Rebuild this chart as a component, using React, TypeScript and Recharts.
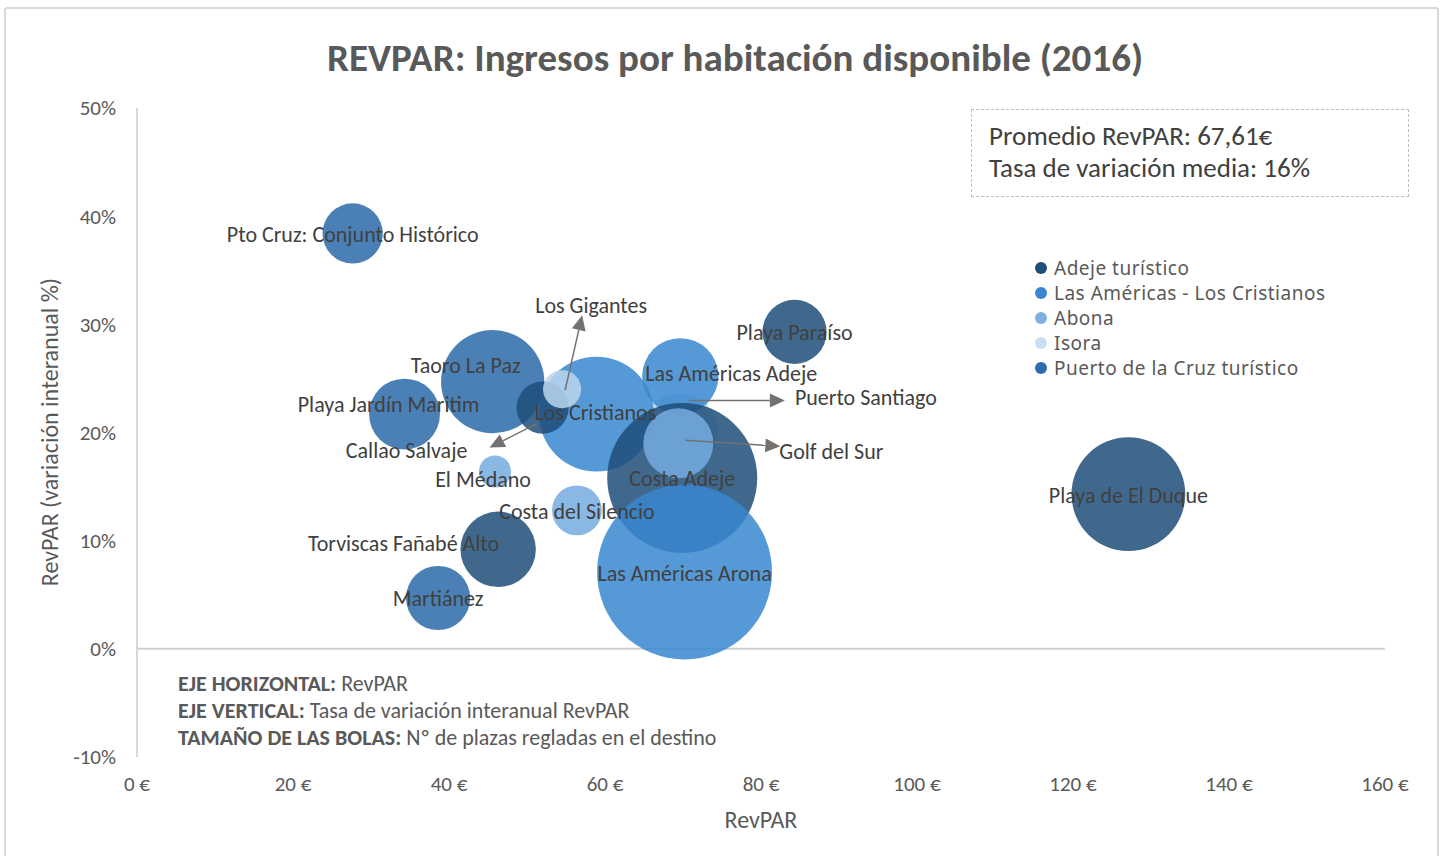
import { ScatterChart, Scatter, XAxis, YAxis, ZAxis, Cell, ReferenceLine } from 'recharts';

const FONT = 'Carlito, Calibri, Lato, sans-serif';
const LEGEND_FONT = '"Noto Sans", sans-serif';

const seriesNames = ['Adeje turístico', 'Las Américas - Los Cristianos', 'Abona', 'Isora', 'Puerto de la Cruz turístico'];
const seriesColors = ['#1F4E79', '#3787CF', '#75ACDF', '#BBD6ED', '#2A6AA8'];
const legendColors = ['#1F4E79', '#3A86D0', '#7EB0E0', '#C8DEF2', '#2E6BAA'];

// x: RevPAR (€), y: variación interanual, z: nº de plazas regladas
const adeje = [
  { name: 'Playa Paraíso', x: 84.3, y: 0.293, z: 3400 },
  { name: 'Costa Adeje', x: 69.9, y: 0.158, z: 18600 },
  { name: 'Playa de El Duque', x: 127.1, y: 0.143, z: 10700 },
  { name: 'Torviscas Fañabé Alto', x: 46.3, y: 0.092, z: 4700 },
  { name: 'Callao Salvaje', x: 52.0, y: 0.223, z: 2250 },
];
const americasCristianos = [
  { name: 'Los Cristianos', x: 58.9, y: 0.217, z: 10900 },
  { name: 'Las Américas Adeje', x: 69.65, y: 0.252, z: 4800 },
  { name: 'Las Américas Arona', x: 70.2, y: 0.071, z: 25300 },
];
const abona = [
  { name: 'El Médano', x: 45.9, y: 0.164, z: 850 },
  { name: 'Costa del Silencio', x: 56.4, y: 0.128, z: 2050 },
  { name: 'Golf del Sur', x: 69.4, y: 0.19, z: 4050 },
];
const isora = [
  { name: 'Los Gigantes', x: 54.5, y: 0.24, z: 1200 },
  { name: 'Puerto Santiago', x: 69.6, y: 0.201, z: 4800 },
];
const puertoCruz = [
  { name: 'Pto Cruz: Conjunto Histórico', x: 27.65, y: 0.384, z: 3000 },
  { name: 'Taoro La Paz', x: 45.6, y: 0.247, z: 8800 },
  { name: 'Playa Jardín Maritim', x: 34.3, y: 0.217, z: 4150 },
  { name: 'Martiánez', x: 38.6, y: 0.047, z: 3400 },
];

const xTicks = [0, 20, 40, 60, 80, 100, 120, 140, 160];
const yTicks = [-0.1, 0, 0.1, 0.2, 0.3, 0.4, 0.5];

const drawOrder = [
  'Puerto Santiago', 'Pto Cruz: Conjunto Histórico', 'Taoro La Paz', 'Playa Jardín Maritim', 'Martiánez',
  'Los Cristianos', 'Las Américas Adeje', 'Callao Salvaje', 'Costa Adeje',
  'Golf del Sur', 'Las Américas Arona', 'Los Gigantes', 'El Médano', 'Costa del Silencio',
  'Torviscas Fañabé Alto', 'Playa Paraíso', 'Playa de El Duque',
];

const groups = [adeje, americasCristianos, abona, isora, puertoCruz];
const points = groups
  .flatMap((g, i) => g.map((p) => ({ ...p, serie: i })))
  .sort((a, b) => drawOrder.indexOf(a.name) - drawOrder.indexOf(b.name));

// label offsets from the bubble centre, in px; arrows are [x1, y1, x2, y2]
const labelLayout: Record<string, { dx: number; dy: number; anchor?: string; arrow?: number[] }> = {
  'Taoro La Paz': { dx: -27, dy: -16 },
  'Playa Jardín Maritim': { dx: -16, dy: -10 },
  'Callao Salvaje': { dx: -136, dy: 43, arrow: [-6, 16, -53, 40] },
  'Los Gigantes': { dx: 29, dy: -84, arrow: [3, 1, 20, -74] },
  'Las Américas Adeje': { dx: 51, dy: -3 },
  'Los Cristianos': { dx: -1, dy: -2 },
  'Puerto Santiago': { dx: 115, dy: -34, anchor: 'start', arrow: [9, -31, 105, -31] },
  'Golf del Sur': { dx: 101, dy: 8, anchor: 'start', arrow: [7, -3, 102, 3] },
  'El Médano': { dx: -12, dy: 8 },
  'Torviscas Fañabé Alto': { dx: 1, dy: -6, anchor: 'end' },
};

const Arrow = ({ x1, y1, x2, y2 }: any) => {
  const a = Math.atan2(y2 - y1, x2 - x1);
  const len = 15;
  const w = 7;
  const bx = x2 - len * Math.cos(a);
  const by = y2 - len * Math.sin(a);
  const px = -Math.sin(a) * w;
  const py = Math.cos(a) * w;
  return (
    <g>
      <line x1={x1} y1={y1} x2={bx} y2={by} stroke="#767171" strokeWidth={1.5} />
      <polygon points={`${x2},${y2} ${bx + px},${by + py} ${bx - px},${by - py}`} fill="#767171" />
    </g>
  );
};

const BubbleLabel = (props: any) => {
  const { cx, cy, payload } = props;
  const lay = labelLayout[payload.name] || { dx: 0, dy: 1 };
  const arrow = lay.arrow;
  return (
    <g>
      {arrow && <Arrow x1={cx + arrow[0]} y1={cy + arrow[1]} x2={cx + arrow[2]} y2={cy + arrow[3]} />}
      <text
        x={cx + lay.dx}
        y={cy + lay.dy}
        textAnchor={lay.anchor || 'middle'}
        dominantBaseline="central"
        fill="#404040"
        fontSize={22}
        fontFamily={FONT}
      >
        {payload.name}
      </text>
    </g>
  );
};

const txt = (extra: any) => ({ position: 'absolute' as const, fontFamily: FONT, color: '#595959', whiteSpace: 'nowrap' as const, ...extra });

const App = () => {
  return (
    <div style={{ position: 'fixed', left: 0, top: 0, width: 1443, height: 856, background: '#fff', overflow: 'hidden' }}>
      <div style={{ position: 'absolute', left: 4, top: 7, width: 1431, height: 870, border: '2px solid #D9D9D9', borderRadius: 3 }} />
      <div style={txt({ left: 0, width: 1470, top: 36, lineHeight: '44px', textAlign: 'center', fontSize: 39, fontWeight: 700 })}>
        REVPAR: Ingresos por habitación disponible (2016)
      </div>

      <div style={{ position: 'absolute', left: 0, top: 0 }}>
        <ScatterChart width={1443} height={856} margin={{ top: 108, right: 58, bottom: 59, left: 0 }}>
          <XAxis
            type="number"
            dataKey="x"
            domain={[0, 160]}
            ticks={xTicks}
            tickFormatter={(v) => `${v} €`}
            axisLine={false}
            tickLine={false}
            tickSize={0}
            tickMargin={19}
            height={40}
            tick={{ fill: '#595959', fontSize: 21, fontFamily: FONT }}
          />
          <YAxis
            type="number"
            dataKey="y"
            domain={[-0.1, 0.5]}
            ticks={yTicks}
            tickFormatter={(v) => `${Math.round(v * 100)}%`}
            axisLine={{ stroke: '#CCCCCC', strokeWidth: 1.5 }}
            tickLine={false}
            tickSize={0}
            tickMargin={21}
            width={137}
            tick={{ fill: '#595959', fontSize: 21, fontFamily: FONT }}
          />
          <ZAxis type="number" dataKey="z" domain={[0, 25300]} range={[0, Math.PI * 87.5 * 87.5]} />
          <ReferenceLine y={0} stroke="#D0D0D0" strokeWidth={2} />
          <Scatter data={points} isAnimationActive={false}>
            {points.map((p, i) => (
              <Cell key={`b-${i}`} fill={seriesColors[p.serie]} fillOpacity={0.85} />
            ))}
          </Scatter>
          <Scatter data={points} isAnimationActive={false} shape={BubbleLabel} legendType="none" />
        </ScatterChart>
      </div>

      <div
        style={txt({
          left: 50,
          top: 432,
          lineHeight: '28px',
          fontSize: 24,
          transform: 'translate(-50%, -50%) rotate(-90deg)',
        })}
      >
        RevPAR (variación interanual %)
      </div>
      <div style={txt({ left: 0, width: 1522, top: 806, lineHeight: '28px', textAlign: 'center', fontSize: 24 })}>RevPAR</div>

      <div style={{ position: 'absolute', left: 971, top: 109, width: 436, height: 86, border: '1.5px dashed #BFBFBF' }} />
      <div style={txt({ left: 989, top: 120, lineHeight: '32px', fontSize: 27, color: '#404040' })}>
        Promedio RevPAR: 67,61€
        <br />
        Tasa de variación media: 16%
      </div>

      <div style={{ position: 'absolute', left: 1035, top: 255 }}>
        {seriesNames.map((n, i) => (
          <div key={n} style={{ display: 'flex', alignItems: 'center', height: 25 }}>
            <span style={{ width: 12, height: 12, borderRadius: 6, background: legendColors[i], marginRight: 7 }} />
            <span style={{ fontFamily: LEGEND_FONT, fontSize: 19, letterSpacing: 0.5, color: '#595959' }}>{n}</span>
          </div>
        ))}
      </div>

      <div style={txt({ left: 178, top: 670, lineHeight: '27px', fontSize: 22 })}>
        <div><b>EJE HORIZONTAL:</b> RevPAR</div>
        <div><b>EJE VERTICAL:</b> Tasa de variación interanual RevPAR</div>
        <div><b>TAMAÑO DE LAS BOLAS:</b> Nº de plazas regladas en el destino</div>
      </div>
    </div>
  );
};

export default App;
